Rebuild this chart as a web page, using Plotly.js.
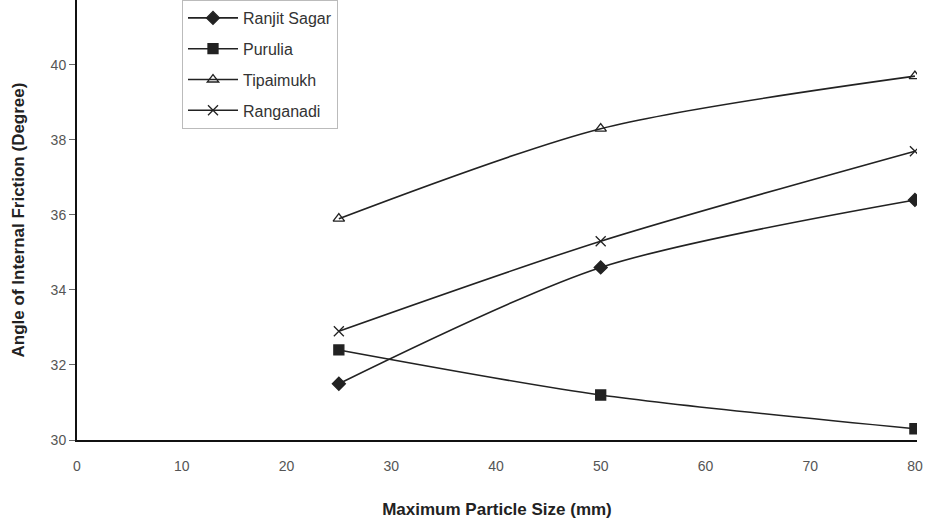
<!DOCTYPE html>
<html>
<head>
<meta charset="utf-8">
<script src="https://cdn.plot.ly/plotly-3.0.1.min.js"></script>
<style>html,body{margin:0;padding:0;background:#fff;}#chart{width:926px;height:527px;}</style>
</head>
<body>
<div id="chart"></div>
<script>
const sizes = [25, 50, 80];
const ranjitSagar = [31.5, 34.6, 36.4];
const purulia = [32.4, 31.2, 30.3];
const tipaimukh = [35.9, 38.3, 39.7];
const ranganadi = [32.9, 35.3, 37.7];
const xTicks = [0, 10, 20, 30, 40, 50, 60, 70, 80];
const yTicks = [30, 32, 34, 36, 38, 40];

const lineStyle = {color: '#222', width: 1.6, shape: 'spline', smoothing: 0.8};
function tr(name, y, sym, size) {
  return {x: sizes, y: y, name: name, type: 'scatter', mode: 'lines+markers',
    legendgroup: name,
    line: lineStyle,
    marker: {symbol: sym, size: size, color: '#222', line: {color: '#222', width: 1.3}}};
}
const data = [
  tr('Ranjit Sagar', ranjitSagar, 'diamond', 10),
  tr('Purulia', purulia, 'square', 10),
  tr('Tipaimukh', tipaimukh, 'triangle-up-open', 10),
  tr('Ranganadi', ranganadi, 'x-thin-open', 10)
];
const layout = {
  width: 926, height: 527,
  margin: {l: 77, r: 9, t: 0, b: 87},
  paper_bgcolor: '#fff', plot_bgcolor: '#fff',
  font: {family: 'Liberation Sans, Arial, sans-serif', color: '#444'},
  showlegend: true,
  legend: {x: 0.125, y: 1, xref: 'paper', xanchor: 'left', yanchor: 'top',
    bgcolor: '#fff', bordercolor: '#bbb', borderwidth: 1,
    font: {size: 16, color: '#333'}, traceorder: 'grouped', tracegroupgap: 7, itemwidth: 50},
  xaxis: {range: [0, 80.2], tickvals: xTicks, ticks: 'outside', ticklen: 12, tickcolor: 'rgba(0,0,0,0)',
    showgrid: false, zeroline: false,
    showline: true, linecolor: '#111', linewidth: 2,
    tickfont: {size: 14, color: '#555'},
    title: {text: '<b>Maximum Particle Size (mm)</b>', font: {size: 17, color: '#222'}, standoff: 30}},
  yaxis: {range: [30, 41.73], tickvals: yTicks, ticks: 'outside', ticklen: 6, tickcolor: '#666',
    showgrid: false, zeroline: false, showline: true, linecolor: '#111', linewidth: 2,
    tickfont: {size: 14, color: '#555'},
    title: {text: '<b>Angle of Internal Friction (Degree)</b>', font: {size: 17, color: '#222'}, standoff: 22}}
};
Plotly.newPlot('chart', data, layout, {displayModeBar: false});
</script>
</body>
</html>
